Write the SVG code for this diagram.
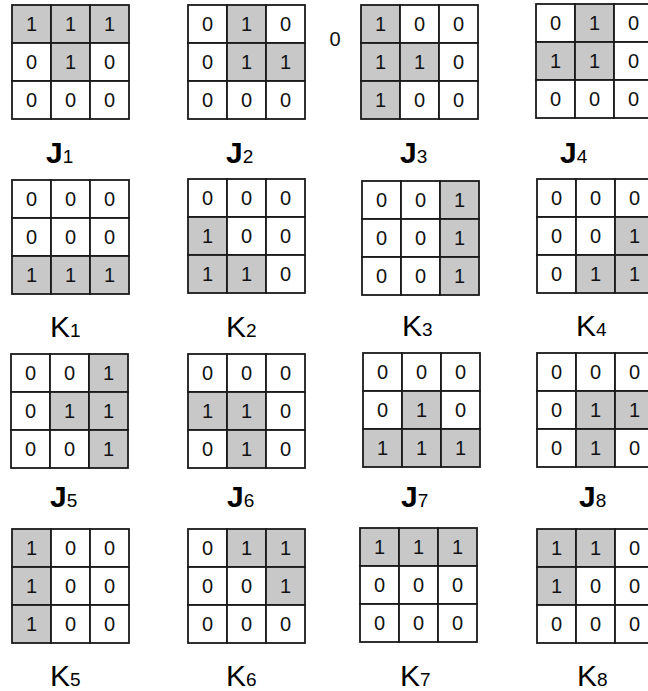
<svg xmlns="http://www.w3.org/2000/svg" width="648" height="691" viewBox="0 0 648 691">
<style>
.w{fill:#fff;stroke:#1a1a1a;stroke-width:1.8}
.g{fill:#c8c8c8;stroke:#1a1a1a;stroke-width:1.8}
.d{font-family:"Liberation Sans",Arial,sans-serif;font-size:20px;text-anchor:middle;fill:#111}
.lab{font-family:"Liberation Sans",Arial,sans-serif;font-size:30px;fill:#000}
.jl{font-weight:bold}
.sub{font-size:19px;font-weight:normal}
</style>
<rect width="648" height="691" fill="#fff"/>
<g id="J1" transform="translate(12,5)">
<rect class="g" x="0" y="0" width="39" height="38"/><rect class="g" x="39" y="0" width="39" height="38"/><rect class="g" x="78" y="0" width="39" height="38"/>
<rect class="w" x="0" y="38" width="39" height="38"/><rect class="g" x="39" y="38" width="39" height="38"/><rect class="w" x="78" y="38" width="39" height="38"/>
<rect class="w" x="0" y="76" width="39" height="38"/><rect class="w" x="39" y="76" width="39" height="38"/><rect class="w" x="78" y="76" width="39" height="38"/>
<text class="d" x="19.5" y="26">1</text><text class="d" x="58.5" y="26">1</text><text class="d" x="97.5" y="26">1</text>
<text class="d" x="19.5" y="64">0</text><text class="d" x="58.5" y="64">1</text><text class="d" x="97.5" y="64">0</text>
<text class="d" x="19.5" y="102">0</text><text class="d" x="58.5" y="102">0</text><text class="d" x="97.5" y="102">0</text>
</g>
<g id="J2" transform="translate(188,5)">
<rect class="w" x="0" y="0" width="39" height="38"/><rect class="g" x="39" y="0" width="39" height="38"/><rect class="w" x="78" y="0" width="39" height="38"/>
<rect class="w" x="0" y="38" width="39" height="38"/><rect class="g" x="39" y="38" width="39" height="38"/><rect class="g" x="78" y="38" width="39" height="38"/>
<rect class="w" x="0" y="76" width="39" height="38"/><rect class="w" x="39" y="76" width="39" height="38"/><rect class="w" x="78" y="76" width="39" height="38"/>
<text class="d" x="19.5" y="26">0</text><text class="d" x="58.5" y="26">1</text><text class="d" x="97.5" y="26">0</text>
<text class="d" x="19.5" y="64">0</text><text class="d" x="58.5" y="64">1</text><text class="d" x="97.5" y="64">1</text>
<text class="d" x="19.5" y="102">0</text><text class="d" x="58.5" y="102">0</text><text class="d" x="97.5" y="102">0</text>
</g>
<text id="stray" class="d" x="335" y="46">0</text>
<g id="J3" transform="translate(361,5)">
<rect class="g" x="0" y="0" width="39" height="38"/><rect class="w" x="39" y="0" width="39" height="38"/><rect class="w" x="78" y="0" width="39" height="38"/>
<rect class="g" x="0" y="38" width="39" height="38"/><rect class="g" x="39" y="38" width="39" height="38"/><rect class="w" x="78" y="38" width="39" height="38"/>
<rect class="g" x="0" y="76" width="39" height="38"/><rect class="w" x="39" y="76" width="39" height="38"/><rect class="w" x="78" y="76" width="39" height="38"/>
<text class="d" x="19.5" y="26">1</text><text class="d" x="58.5" y="26">0</text><text class="d" x="97.5" y="26">0</text>
<text class="d" x="19.5" y="64">1</text><text class="d" x="58.5" y="64">1</text><text class="d" x="97.5" y="64">0</text>
<text class="d" x="19.5" y="102">1</text><text class="d" x="58.5" y="102">0</text><text class="d" x="97.5" y="102">0</text>
</g>
<g id="J4" transform="translate(536,4)">
<rect class="w" x="0" y="0" width="39" height="38"/><rect class="g" x="39" y="0" width="39" height="38"/><rect class="w" x="78" y="0" width="39" height="38"/>
<rect class="g" x="0" y="38" width="39" height="38"/><rect class="g" x="39" y="38" width="39" height="38"/><rect class="w" x="78" y="38" width="39" height="38"/>
<rect class="w" x="0" y="76" width="39" height="38"/><rect class="w" x="39" y="76" width="39" height="38"/><rect class="w" x="78" y="76" width="39" height="38"/>
<text class="d" x="19.5" y="26">0</text><text class="d" x="58.5" y="26">1</text><text class="d" x="97.5" y="26">0</text>
<text class="d" x="19.5" y="64">1</text><text class="d" x="58.5" y="64">1</text><text class="d" x="97.5" y="64">0</text>
<text class="d" x="19.5" y="102">0</text><text class="d" x="58.5" y="102">0</text><text class="d" x="97.5" y="102">0</text>
</g>
<g id="K1" transform="translate(12,180)">
<rect class="w" x="0" y="0" width="39" height="38"/><rect class="w" x="39" y="0" width="39" height="38"/><rect class="w" x="78" y="0" width="39" height="38"/>
<rect class="w" x="0" y="38" width="39" height="38"/><rect class="w" x="39" y="38" width="39" height="38"/><rect class="w" x="78" y="38" width="39" height="38"/>
<rect class="g" x="0" y="76" width="39" height="38"/><rect class="g" x="39" y="76" width="39" height="38"/><rect class="g" x="78" y="76" width="39" height="38"/>
<text class="d" x="19.5" y="26">0</text><text class="d" x="58.5" y="26">0</text><text class="d" x="97.5" y="26">0</text>
<text class="d" x="19.5" y="64">0</text><text class="d" x="58.5" y="64">0</text><text class="d" x="97.5" y="64">0</text>
<text class="d" x="19.5" y="102">1</text><text class="d" x="58.5" y="102">1</text><text class="d" x="97.5" y="102">1</text>
</g>
<g id="K2" transform="translate(188,179)">
<rect class="w" x="0" y="0" width="39" height="38"/><rect class="w" x="39" y="0" width="39" height="38"/><rect class="w" x="78" y="0" width="39" height="38"/>
<rect class="g" x="0" y="38" width="39" height="38"/><rect class="w" x="39" y="38" width="39" height="38"/><rect class="w" x="78" y="38" width="39" height="38"/>
<rect class="g" x="0" y="76" width="39" height="38"/><rect class="g" x="39" y="76" width="39" height="38"/><rect class="w" x="78" y="76" width="39" height="38"/>
<text class="d" x="19.5" y="26">0</text><text class="d" x="58.5" y="26">0</text><text class="d" x="97.5" y="26">0</text>
<text class="d" x="19.5" y="64">1</text><text class="d" x="58.5" y="64">0</text><text class="d" x="97.5" y="64">0</text>
<text class="d" x="19.5" y="102">1</text><text class="d" x="58.5" y="102">1</text><text class="d" x="97.5" y="102">0</text>
</g>
<g id="K3" transform="translate(362,181)">
<rect class="w" x="0" y="0" width="39" height="38"/><rect class="w" x="39" y="0" width="39" height="38"/><rect class="g" x="78" y="0" width="39" height="38"/>
<rect class="w" x="0" y="38" width="39" height="38"/><rect class="w" x="39" y="38" width="39" height="38"/><rect class="g" x="78" y="38" width="39" height="38"/>
<rect class="w" x="0" y="76" width="39" height="38"/><rect class="w" x="39" y="76" width="39" height="38"/><rect class="g" x="78" y="76" width="39" height="38"/>
<text class="d" x="19.5" y="26">0</text><text class="d" x="58.5" y="26">0</text><text class="d" x="97.5" y="26">1</text>
<text class="d" x="19.5" y="64">0</text><text class="d" x="58.5" y="64">0</text><text class="d" x="97.5" y="64">1</text>
<text class="d" x="19.5" y="102">0</text><text class="d" x="58.5" y="102">0</text><text class="d" x="97.5" y="102">1</text>
</g>
<g id="K4" transform="translate(537,179)">
<rect class="w" x="0" y="0" width="39" height="38"/><rect class="w" x="39" y="0" width="39" height="38"/><rect class="w" x="78" y="0" width="39" height="38"/>
<rect class="w" x="0" y="38" width="39" height="38"/><rect class="w" x="39" y="38" width="39" height="38"/><rect class="g" x="78" y="38" width="39" height="38"/>
<rect class="w" x="0" y="76" width="39" height="38"/><rect class="g" x="39" y="76" width="39" height="38"/><rect class="g" x="78" y="76" width="39" height="38"/>
<text class="d" x="19.5" y="26">0</text><text class="d" x="58.5" y="26">0</text><text class="d" x="97.5" y="26">0</text>
<text class="d" x="19.5" y="64">0</text><text class="d" x="58.5" y="64">0</text><text class="d" x="97.5" y="64">1</text>
<text class="d" x="19.5" y="102">0</text><text class="d" x="58.5" y="102">1</text><text class="d" x="97.5" y="102">1</text>
</g>
<g id="J5" transform="translate(11,354)">
<rect class="w" x="0" y="0" width="39" height="38"/><rect class="w" x="39" y="0" width="39" height="38"/><rect class="g" x="78" y="0" width="39" height="38"/>
<rect class="w" x="0" y="38" width="39" height="38"/><rect class="g" x="39" y="38" width="39" height="38"/><rect class="g" x="78" y="38" width="39" height="38"/>
<rect class="w" x="0" y="76" width="39" height="38"/><rect class="w" x="39" y="76" width="39" height="38"/><rect class="g" x="78" y="76" width="39" height="38"/>
<text class="d" x="19.5" y="26">0</text><text class="d" x="58.5" y="26">0</text><text class="d" x="97.5" y="26">1</text>
<text class="d" x="19.5" y="64">0</text><text class="d" x="58.5" y="64">1</text><text class="d" x="97.5" y="64">1</text>
<text class="d" x="19.5" y="102">0</text><text class="d" x="58.5" y="102">0</text><text class="d" x="97.5" y="102">1</text>
</g>
<g id="J6" transform="translate(188,354)">
<rect class="w" x="0" y="0" width="39" height="38"/><rect class="w" x="39" y="0" width="39" height="38"/><rect class="w" x="78" y="0" width="39" height="38"/>
<rect class="g" x="0" y="38" width="39" height="38"/><rect class="g" x="39" y="38" width="39" height="38"/><rect class="w" x="78" y="38" width="39" height="38"/>
<rect class="w" x="0" y="76" width="39" height="38"/><rect class="g" x="39" y="76" width="39" height="38"/><rect class="w" x="78" y="76" width="39" height="38"/>
<text class="d" x="19.5" y="26">0</text><text class="d" x="58.5" y="26">0</text><text class="d" x="97.5" y="26">0</text>
<text class="d" x="19.5" y="64">1</text><text class="d" x="58.5" y="64">1</text><text class="d" x="97.5" y="64">0</text>
<text class="d" x="19.5" y="102">0</text><text class="d" x="58.5" y="102">1</text><text class="d" x="97.5" y="102">0</text>
</g>
<g id="J7" transform="translate(363,353)">
<rect class="w" x="0" y="0" width="39" height="38"/><rect class="w" x="39" y="0" width="39" height="38"/><rect class="w" x="78" y="0" width="39" height="38"/>
<rect class="w" x="0" y="38" width="39" height="38"/><rect class="g" x="39" y="38" width="39" height="38"/><rect class="w" x="78" y="38" width="39" height="38"/>
<rect class="g" x="0" y="76" width="39" height="38"/><rect class="g" x="39" y="76" width="39" height="38"/><rect class="g" x="78" y="76" width="39" height="38"/>
<text class="d" x="19.5" y="26">0</text><text class="d" x="58.5" y="26">0</text><text class="d" x="97.5" y="26">0</text>
<text class="d" x="19.5" y="64">0</text><text class="d" x="58.5" y="64">1</text><text class="d" x="97.5" y="64">0</text>
<text class="d" x="19.5" y="102">1</text><text class="d" x="58.5" y="102">1</text><text class="d" x="97.5" y="102">1</text>
</g>
<g id="J8" transform="translate(537,353)">
<rect class="w" x="0" y="0" width="39" height="38"/><rect class="w" x="39" y="0" width="39" height="38"/><rect class="w" x="78" y="0" width="39" height="38"/>
<rect class="w" x="0" y="38" width="39" height="38"/><rect class="g" x="39" y="38" width="39" height="38"/><rect class="g" x="78" y="38" width="39" height="38"/>
<rect class="w" x="0" y="76" width="39" height="38"/><rect class="g" x="39" y="76" width="39" height="38"/><rect class="w" x="78" y="76" width="39" height="38"/>
<text class="d" x="19.5" y="26">0</text><text class="d" x="58.5" y="26">0</text><text class="d" x="97.5" y="26">0</text>
<text class="d" x="19.5" y="64">0</text><text class="d" x="58.5" y="64">1</text><text class="d" x="97.5" y="64">1</text>
<text class="d" x="19.5" y="102">0</text><text class="d" x="58.5" y="102">1</text><text class="d" x="97.5" y="102">0</text>
</g>
<g id="K5" transform="translate(12,529)">
<rect class="g" x="0" y="0" width="39" height="38"/><rect class="w" x="39" y="0" width="39" height="38"/><rect class="w" x="78" y="0" width="39" height="38"/>
<rect class="g" x="0" y="38" width="39" height="38"/><rect class="w" x="39" y="38" width="39" height="38"/><rect class="w" x="78" y="38" width="39" height="38"/>
<rect class="g" x="0" y="76" width="39" height="38"/><rect class="w" x="39" y="76" width="39" height="38"/><rect class="w" x="78" y="76" width="39" height="38"/>
<text class="d" x="19.5" y="26">1</text><text class="d" x="58.5" y="26">0</text><text class="d" x="97.5" y="26">0</text>
<text class="d" x="19.5" y="64">1</text><text class="d" x="58.5" y="64">0</text><text class="d" x="97.5" y="64">0</text>
<text class="d" x="19.5" y="102">1</text><text class="d" x="58.5" y="102">0</text><text class="d" x="97.5" y="102">0</text>
</g>
<g id="K6" transform="translate(188,529)">
<rect class="w" x="0" y="0" width="39" height="38"/><rect class="g" x="39" y="0" width="39" height="38"/><rect class="g" x="78" y="0" width="39" height="38"/>
<rect class="w" x="0" y="38" width="39" height="38"/><rect class="w" x="39" y="38" width="39" height="38"/><rect class="g" x="78" y="38" width="39" height="38"/>
<rect class="w" x="0" y="76" width="39" height="38"/><rect class="w" x="39" y="76" width="39" height="38"/><rect class="w" x="78" y="76" width="39" height="38"/>
<text class="d" x="19.5" y="26">0</text><text class="d" x="58.5" y="26">1</text><text class="d" x="97.5" y="26">1</text>
<text class="d" x="19.5" y="64">0</text><text class="d" x="58.5" y="64">0</text><text class="d" x="97.5" y="64">1</text>
<text class="d" x="19.5" y="102">0</text><text class="d" x="58.5" y="102">0</text><text class="d" x="97.5" y="102">0</text>
</g>
<g id="K7" transform="translate(360,528)">
<rect class="g" x="0" y="0" width="39" height="38"/><rect class="g" x="39" y="0" width="39" height="38"/><rect class="g" x="78" y="0" width="39" height="38"/>
<rect class="w" x="0" y="38" width="39" height="38"/><rect class="w" x="39" y="38" width="39" height="38"/><rect class="w" x="78" y="38" width="39" height="38"/>
<rect class="w" x="0" y="76" width="39" height="38"/><rect class="w" x="39" y="76" width="39" height="38"/><rect class="w" x="78" y="76" width="39" height="38"/>
<text class="d" x="19.5" y="26">1</text><text class="d" x="58.5" y="26">1</text><text class="d" x="97.5" y="26">1</text>
<text class="d" x="19.5" y="64">0</text><text class="d" x="58.5" y="64">0</text><text class="d" x="97.5" y="64">0</text>
<text class="d" x="19.5" y="102">0</text><text class="d" x="58.5" y="102">0</text><text class="d" x="97.5" y="102">0</text>
</g>
<g id="K8" transform="translate(537,529)">
<rect class="g" x="0" y="0" width="39" height="38"/><rect class="g" x="39" y="0" width="39" height="38"/><rect class="w" x="78" y="0" width="39" height="38"/>
<rect class="g" x="0" y="38" width="39" height="38"/><rect class="w" x="39" y="38" width="39" height="38"/><rect class="w" x="78" y="38" width="39" height="38"/>
<rect class="w" x="0" y="76" width="39" height="38"/><rect class="w" x="39" y="76" width="39" height="38"/><rect class="w" x="78" y="76" width="39" height="38"/>
<text class="d" x="19.5" y="26">1</text><text class="d" x="58.5" y="26">1</text><text class="d" x="97.5" y="26">0</text>
<text class="d" x="19.5" y="64">1</text><text class="d" x="58.5" y="64">0</text><text class="d" x="97.5" y="64">0</text>
<text class="d" x="19.5" y="102">0</text><text class="d" x="58.5" y="102">0</text><text class="d" x="97.5" y="102">0</text>
</g>
<g id="labels">
<text class="lab jl" x="46" y="163">J<tspan class="sub">1</tspan></text>
<text class="lab jl" x="226" y="163">J<tspan class="sub">2</tspan></text>
<text class="lab jl" x="400" y="163">J<tspan class="sub">3</tspan></text>
<text class="lab jl" x="560" y="163">J<tspan class="sub">4</tspan></text>
<text class="lab" x="50" y="337">K<tspan class="sub">1</tspan></text>
<text class="lab" x="226" y="337">K<tspan class="sub">2</tspan></text>
<text class="lab" x="402" y="336">K<tspan class="sub">3</tspan></text>
<text class="lab" x="576" y="336">K<tspan class="sub">4</tspan></text>
<text class="lab jl" x="50" y="507">J<tspan class="sub">5</tspan></text>
<text class="lab jl" x="227" y="507">J<tspan class="sub">6</tspan></text>
<text class="lab jl" x="401" y="507">J<tspan class="sub">7</tspan></text>
<text class="lab jl" x="579" y="507">J<tspan class="sub">8</tspan></text>
<text class="lab" x="50" y="686">K<tspan class="sub">5</tspan></text>
<text class="lab" x="226" y="686">K<tspan class="sub">6</tspan></text>
<text class="lab" x="400" y="686">K<tspan class="sub">7</tspan></text>
<text class="lab" x="577" y="686">K<tspan class="sub">8</tspan></text>
</g>
</svg>
